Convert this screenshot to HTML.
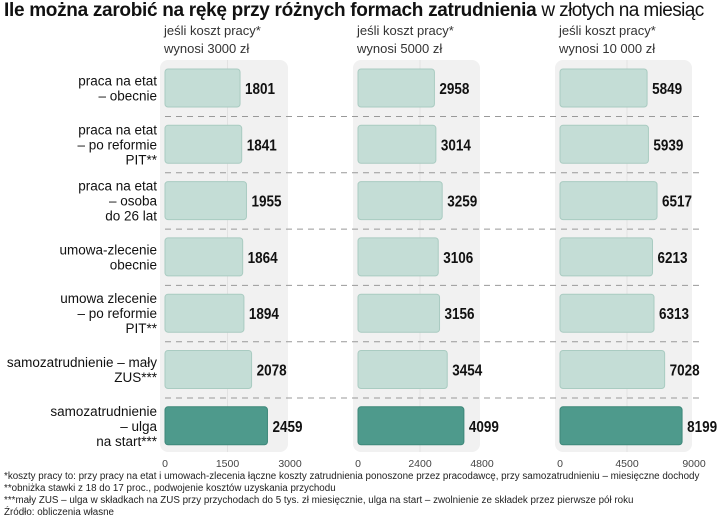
<!DOCTYPE html>
<html><head><meta charset="utf-8">
<style>
body{margin:0;background:#fff;font-family:"Liberation Sans",sans-serif;}
#wrap{position:relative;width:720px;height:520px;overflow:hidden;}
.t{position:absolute;white-space:nowrap;}
</style></head>
<body>
<div id="wrap">
<div class="t" style="left:4px;top:0px;font-size:19px;font-weight:bold;letter-spacing:-0.3px;color:#111">Ile można zarobić na rękę przy różnych formach zatrudnienia <span style="font-weight:normal;letter-spacing:-0.6px">w złotych na miesiąc</span></div>
<svg id="svg" width="720" height="520" style="position:absolute;left:0;top:0"></svg>
<div class="t" style="left:4px;top:471px;font-size:9.8px;color:#222;line-height:12px">*koszty pracy to: przy pracy na etat i umowach-zlecenia łączne koszty zatrudnienia ponoszone przez pracodawcę, przy samozatrudnieniu – miesięczne dochody<br>**obniżka stawki z 18 do 17 proc., podwojenie kosztów uzyskania przychodu<br>***mały ZUS – ulga w składkach na ZUS przy przychodach do 5 tys. zł miesięcznie, ulga na start – zwolnienie ze składek przez pierwsze pół roku<br>Źródło: obliczenia własne</div>
</div>
<script>
const categories=[["praca na etat","– obecnie"],["praca na etat","– po reformie","PIT**"],["praca na etat","– osoba","do 26 lat"],["umowa-zlecenie","obecnie"],["umowa zlecenie","– po reformie","PIT**"],["samozatrudnienie – mały","ZUS***"],["samozatrudnienie","– ulga","na start***"]];
const values3000=[1801,1841,1955,1864,1894,2078,2459];
const values5000=[2958,3014,3259,3106,3156,3454,4099];
const values10000=[5849,5939,6517,6213,6313,7028,8199];
const panelTitles=[["jeśli koszt pracy*","wynosi 3000 zł"],["jeśli koszt pracy*","wynosi 5000 zł"],["jeśli koszt pracy*","wynosi 10 000 zł"]];
const ticks3000=[0,1500,3000];
const ticks5000=[0,2400,4800];
const ticks10000=[0,4500,9000];
const NS="http://www.w3.org/2000/svg";
const svg=document.getElementById('svg');
function mk(tag,attrs,name,parent){const e=document.createElementNS(NS,tag);for(const k in attrs)e.setAttribute(k,attrs[k]);


(parent||svg).appendChild(e);return e;}
const rowY=i=>88+i*56.3;
const panels=[{v:values3000,t:ticks3000,x0:165,x1:290},{v:values5000,t:ticks5000,x0:358,x1:482},{v:values10000,t:ticks10000,x0:560,x1:694}];
panels.forEach((p,pi)=>{
  const max=p.t[p.t.length-1];
  const sx=v=>p.x0+(p.x1-p.x0)*v/max;
  mk('rect',{x:p.x0-5,y:60,width:p.x1-p.x0+3,height:392,rx:8,fill:'#f1f1f1'},'panel-bg-'+pi);
  mk('line',{x1:sx(p.t[1]),x2:sx(p.t[1]),y1:60,y2:452,stroke:'#e2e2e2','stroke-width':1},'gridline-'+pi);
  panelTitles[pi].forEach((s,j)=>{const t=mk('text',{x:p.x0-1,y:35+j*18,'font-size':13,fill:'#333'},'panel-title-'+pi);t.textContent=s;});
  p.t.forEach(v=>{const t=mk('text',{x:sx(v),y:467,'font-size':10.5,fill:'#444','text-anchor':'middle'},'x-tick-label');t.textContent=v;});
  p.v.forEach((v,i)=>{
    const last=i===6;
    mk('rect',{x:p.x0,y:rowY(i)-19,width:sx(v)-p.x0,height:38,rx:3,fill:last?'#4e9a8c':'#c4ddd6',stroke:last?'#3d8779':'#a9cbc1','stroke-width':1},'bar-'+pi+'-'+i);
    const t=mk('text',{x:sx(v)+5,y:rowY(i)+6,'font-size':16,'font-weight':'bold',fill:'#111',textLength:30,lengthAdjust:'spacingAndGlyphs'},'value-label');t.textContent=v;
  });
});
categories.forEach((c,i)=>{
  const n=c.length;
  c.forEach((s,j)=>{const t=mk('text',{x:157,y:rowY(i)+5+(j-(n-1)/2)*15,'font-size':13.5,fill:'#111','text-anchor':'end'},'category-label');t.textContent=s;});
  if(i<6)mk('line',{x1:165,x2:700,y1:rowY(i)+28.5,y2:rowY(i)+28.5,stroke:'#999','stroke-dasharray':'6,5','stroke-width':1},'row-separator');
});
</script>
</body></html>
